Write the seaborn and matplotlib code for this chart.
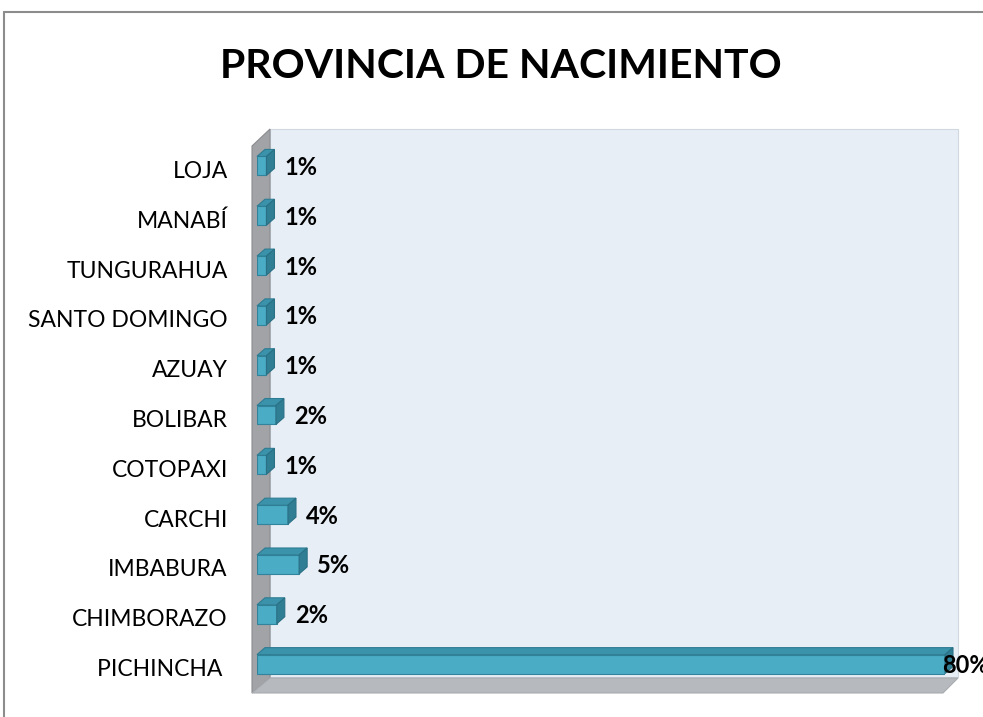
import numpy as np
import pandas as pd
import matplotlib
matplotlib.use("Agg")
import matplotlib.pyplot as plt
import seaborn as sns
from matplotlib.patches import Polygon
from matplotlib.transforms import IdentityTransform, ScaledTranslation
from matplotlib.lines import Line2D

# ---- data ----
provincias = ["LOJA", "MANABÍ", "TUNGURAHUA", "SANTO DOMINGO", "AZUAY", "BOLIBAR",
              "COTOPAXI", "CARCHI", "IMBABURA", "CHIMBORAZO", "PICHINCHA "]
porcentajes = [1.1, 1.1, 1.1, 1.1, 1.1, 2.2, 1.1, 3.6, 4.9, 2.3, 80.0]
titulo = "PROVINCIA DE NACIMIENTO"

W, H, DPI = 983, 717, 100
sns.set_theme(style="white")
plt.rcParams['font.family'] = ['Lato', 'DejaVu Sans']

fig = plt.figure(figsize=(W / DPI, H / DPI), dpi=DPI)
fig.patch.set_facecolor("white")

# front plane of the 3D box (pixels, image coords)
L, R, T, B = 257, 945, 141, 689
ax = fig.add_axes([L / W, (H - B) / H, (R - L) / W, (B - T) / H])

df = pd.DataFrame({"provincia": provincias, "pct": porcentajes})
sns.barplot(data=df, y="provincia", x="pct", orient="h", color="#4BACC6",
            saturation=1, width=0.38, edgecolor="#31849B", linewidth=0.8,
            ax=ax, zorder=3)
ax.set_xlim(0, 80)
ax.set_ylim(len(provincias) - 0.5, -0.5)
ax.set_facecolor("none")
for s in ax.spines.values():
    s.set_visible(False)
ax.set_xticks([])
ax.set_xlabel("")
ax.set_ylabel("")
ax.tick_params(axis="y", length=0, pad=21, labelsize=16.5, labelcolor="#000000")
off = ScaledTranslation(0, -3.5 / DPI, fig.dpi_scale_trans)
for lab in ax.get_yticklabels():
    lab.set_transform(lab.get_transform() + off)

ident = IdentityTransform()
# axes corners in display px
(x0, y0), (x1, y1) = ax.transAxes.transform([(0, 0), (1, 1)])
DX, DY = 13, 12   # wall depth
t = 5             # wall thickness

back = Polygon([(x0 + DX, y0 + DY), (x1 + DX, y0 + DY), (x1 + DX, y1 + DY), (x0 + DX, y1 + DY)],
               closed=True, transform=ident, clip_on=False, facecolor="#E8EEF6",
               edgecolor="#D0D8E2", linewidth=0.8, zorder=0)
leftwall = Polygon([(x0 - t, y0 - 4), (x0 - t, y1 - t), (x0 + DX, y1 + DY), (x0 + DX, y0 + DY - 1)],
                   closed=True, transform=ident, clip_on=False, facecolor="#A1A3A7",
                   edgecolor="#8A8C90", linewidth=0.8, zorder=0.5)
floor = Polygon([(x0 - t, y0 - 4), (x1 - 2, y0 - 4), (x1 + DX, y0 + DY - 1), (x0 + DX, y0 + DY - 1)],
                closed=True, transform=ident, clip_on=False, facecolor="#B6B9BD",
                edgecolor="#A8ABAF", linewidth=0.8, zorder=0.6)
for p in (back, leftwall, floor):
    ax.add_patch(p)

# 3D faces of bars
bdx, bdy = 8, 7
bars = [p for p in ax.patches if p not in (back, leftwall, floor)]
for p in bars:
    (ax0, ay0), (ax1, ay1) = ax.transData.transform(
        [(p.get_x(), p.get_y()), (p.get_x() + p.get_width(), p.get_y() + p.get_height())])
    xa, xb = min(ax0, ax1), max(ax0, ax1)
    yb, yt = min(ay0, ay1), max(ay0, ay1)
    top = Polygon([(xa, yt), (xb, yt), (xb + bdx, yt + bdy), (xa + bdx, yt + bdy)],
                  closed=True, transform=ident, clip_on=False, facecolor="#3B93AB",
                  edgecolor="#2E7C92", linewidth=0.8, zorder=3)
    side = Polygon([(xb, yb), (xb, yt), (xb + bdx, yt + bdy), (xb + bdx, yb + bdy)],
                   closed=True, transform=ident, clip_on=False, facecolor="#2F7E94",
                   edgecolor="#2A7085", linewidth=0.8, zorder=3)
    ax.add_patch(top)
    ax.add_patch(side)

# data labels
for i, v in enumerate(porcentajes):
    xd, yd = ax.transData.transform((v, i))
    lx = xd + 18
    if lx + 10 > x1:
        lx = xd - 3
    ax.text(lx, yd - 1.5, f"{v:.0f}%", transform=ident, ha="left", va="center",
            fontsize=17, fontweight="bold", color="#000000", zorder=5, clip_on=False)

ax.set_xlim(0, 80)
ax.set_ylim(len(provincias) - 0.5, -0.5)

# title
fig.text(501 / W, 1 - 67 / H, titulo, ha="center", va="center", fontsize=29.5,
         fontweight="bold", color="#000000")

# chart-area border (cropped at right/bottom)
fig.add_artist(Line2D([4 / W, 1], [1 - 12 / H, 1 - 12 / H], transform=fig.transFigure,
                      color="#8C8C8C", linewidth=1.5))
fig.add_artist(Line2D([4 / W, 4 / W], [0, 1 - 12 / H], transform=fig.transFigure,
                      color="#8C8C8C", linewidth=1.5))

fig.savefig("out.png", dpi=DPI)
